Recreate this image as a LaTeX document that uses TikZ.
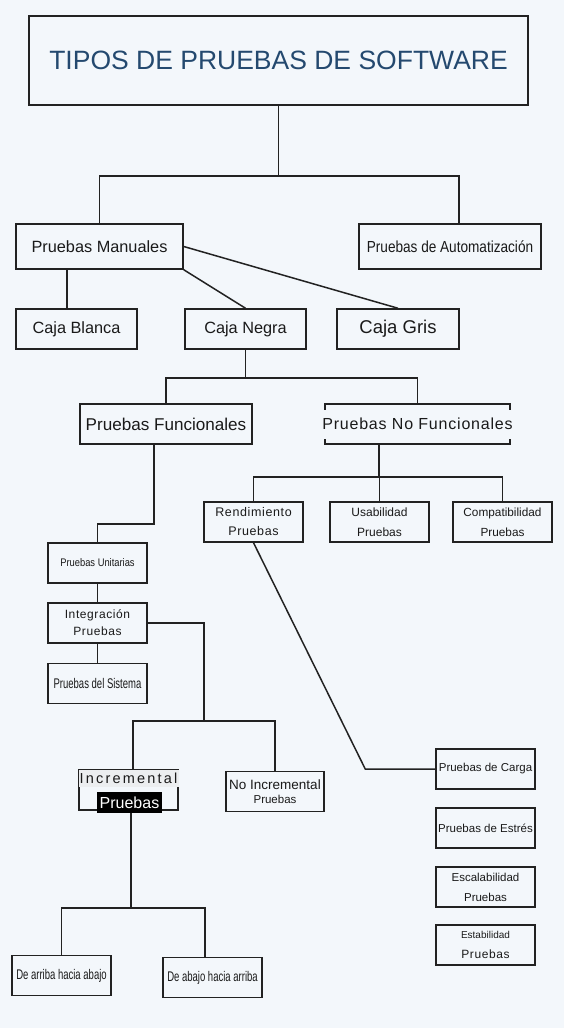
\documentclass[tikz,border=0pt]{standalone}
\usepackage{fontspec}
\setmainfont{Liberation Sans}
\newfontfamily\narrowfont[FakeStretch=0.85]{Liberation Sans}
\newfontfamily\condfont[FakeStretch=0.68]{Liberation Sans}
\newfontfamily\spacedfont[LetterSpace=5]{Liberation Sans}
\newfontfamily\widefont[LetterSpace=15]{Liberation Sans}
\usepackage{tikz}
\usetikzlibrary{positioning}
\definecolor{mBg}{HTML}{F3F7FB}
\definecolor{mLine}{HTML}{222222}
\definecolor{mText}{HTML}{1A1A1A}
\definecolor{mTitle}{HTML}{24496F}
\definecolor{mBar}{HTML}{ECEEF0}

\begin{document}
\begin{tikzpicture}[x=1pt, y=-1pt,
    box/.style={draw=mLine, line width=1.5pt, minimum width=99pt, minimum height=40pt, inner sep=0pt, align=center, text=mText},
    link/.style={draw=mLine, line width=1.5pt}]
    \fill[mBg] (0,0) rectangle (564,1028);
    \useasboundingbox (0,0) rectangle (564,1028);

    \node[box, minimum width=499pt, minimum height=89pt, text=mTitle, font=\fontsize{26.5}{30}\selectfont] (title) at (278.5,60.5) {TIPOS DE PRUEBAS DE SOFTWARE};

    \node[box, minimum width=167pt, minimum height=45pt, font=\fontsize{16.3}{19}\selectfont] (manual) at (99.5,246.5) {Pruebas Manuales};
    \node[box, minimum width=182pt, minimum height=45pt, font=\narrowfont\fontsize{16}{19}\selectfont] (auto) at (450,246.5) {Pruebas de Automatización};

    \node[box, minimum width=121pt, font=\fontsize{16.3}{19}\selectfont] (blanca) at (76.5,329) {Caja Blanca};
    \node[box, minimum width=121pt, font=\fontsize{16.3}{19}\selectfont] (negra) at (245.5,329) {Caja Negra};
    \node[box, minimum width=122pt, font=\fontsize{18.5}{22}\selectfont] (gris) at (398,329) {Caja Gris};

    \node[box, minimum width=172pt, font=\fontsize{17.1}{20}\selectfont] (func) at (166,424) {Pruebas Funcionales};
    \node[box, minimum width=185pt] (nofunc) at (417.5,424) {};
    \node[fill=mBg, minimum width=192pt, minimum height=29pt, inner sep=0pt, text=mText, font=\spacedfont\fontsize{16}{19}\selectfont] (nofunclabel) at (nofunc) {Pruebas No Funcionales};

    \node[box, font=\narrowfont\fontsize{11}{14}\selectfont] (unitarias) at (97.5,563) {Pruebas Unitarias};
    \node[box, font=\spacedfont\fontsize{12}{17}\selectfont] (integ) at (97.5,623) {Integración\\Pruebas};
    \node[box, font=\condfont\fontsize{14}{16}\selectfont] (sistema) at (97.5,683.5) {Pruebas del Sistema};

    \node[box, font=\spacedfont\fontsize{12.5}{19}\selectfont] (rend) at (253.5,522) {Rendimiento\\Pruebas};
    \node[box, font=\fontsize{12}{20}\selectfont] (usab) at (379.5,522) {Usabilidad\\Pruebas};
    \node[box, font=\fontsize{11.8}{20}\selectfont] (compat) at (502.5,522) {Compatibilidad\\Pruebas};

    \node[box] (incr) at (128.5,790) {};
    \node[fill=mBar, minimum width=100pt, minimum height=17pt, inner sep=0pt, text=mText, font=\widefont\fontsize{14.5}{16}\selectfont] (incrtop) at (128.5,778) {Incremental};
    \node[fill=black, text=white, minimum width=65pt, minimum height=21pt, inner sep=0pt, font=\fontsize{16}{18}\selectfont] (incrlow) at (129.5,802.5) {Pruebas};
    \node[box, minimum width=98pt] (noincr) at (275,791.5) {{\fontsize{13.5}{17}\selectfont No Incremental}\\[2pt]{\fontsize{11.5}{14}\selectfont Pruebas}};

    \node[box, font=\fontsize{11.5}{14}\selectfont] (carga) at (485.5,769) {Pruebas de Carga};
    \node[box, font=\fontsize{11.5}{14}\selectfont] (estres) at (485.5,828) {Pruebas de Estrés};
    \node[box, font=\fontsize{11.5}{20}\selectfont] (escal) at (485.5,887) {Escalabilidad\\Pruebas};
    \node[box, font=\fontsize{10}{20}\selectfont] (estab) at (485.5,945) {Estabilidad\\{\spacedfont\fontsize{12}{14}\selectfont Pruebas}};

    \node[box, font=\condfont\fontsize{14}{16}\selectfont] (arriba) at (61.5,975.5) {De arriba hacia abajo};
    \node[box, font=\condfont\fontsize{14}{16}\selectfont] (abajo) at (212.5,977.5) {De abajo hacia arriba};

    \draw[link] (title.south) -- ++(0,70) coordinate (j1);
    \draw[link] (manual.north) |- (j1) -| ([xshift=9pt]auto.north);
    \draw[link] ([xshift=-9.5pt]blanca.north) -- ([xshift=-9.5pt]blanca.north |- manual.south);
    \draw[link] (manual.south east) -- (negra.north);
    \draw[link] (manual.east) -- (gris.north);

    \draw[link] (negra.south) -- ++(0,28) coordinate (j2);
    \draw[link] (func.north) |- (j2) -| (nofunc.north);

    \draw[link] ([xshift=-12pt]func.south) -- ++(0,79) -| (unitarias.north);
    \draw[link] (unitarias) -- (integ);
    \draw[link] (integ) -- (sistema);
    \draw[link] (integ.east) -- ++(56,0) -- ++(0,98) coordinate (j3);
    \draw[link] ([xshift=4.5pt]incrtop.north) |- (j3) -| (noincr.north);
    \draw[link] ([xshift=1.5pt]incrlow.south) -- ++(0,95) coordinate (j4);
    \draw[link] (arriba.north) |- (j4) -| ([xshift=-7.5pt]abajo.north);

    \draw[link] ([xshift=-38.5pt]nofunc.south) -- ++(0,32) coordinate (j5);
    \draw[link] (rend.north) |- (j5) -| (compat.north);
    \draw[link] (usab.north) -- (usab.north |- j5);
    \draw[link] (rend.south) -- ([xshift=-70pt]carga.west) -- (carga.west);
\end{tikzpicture}
\end{document}
